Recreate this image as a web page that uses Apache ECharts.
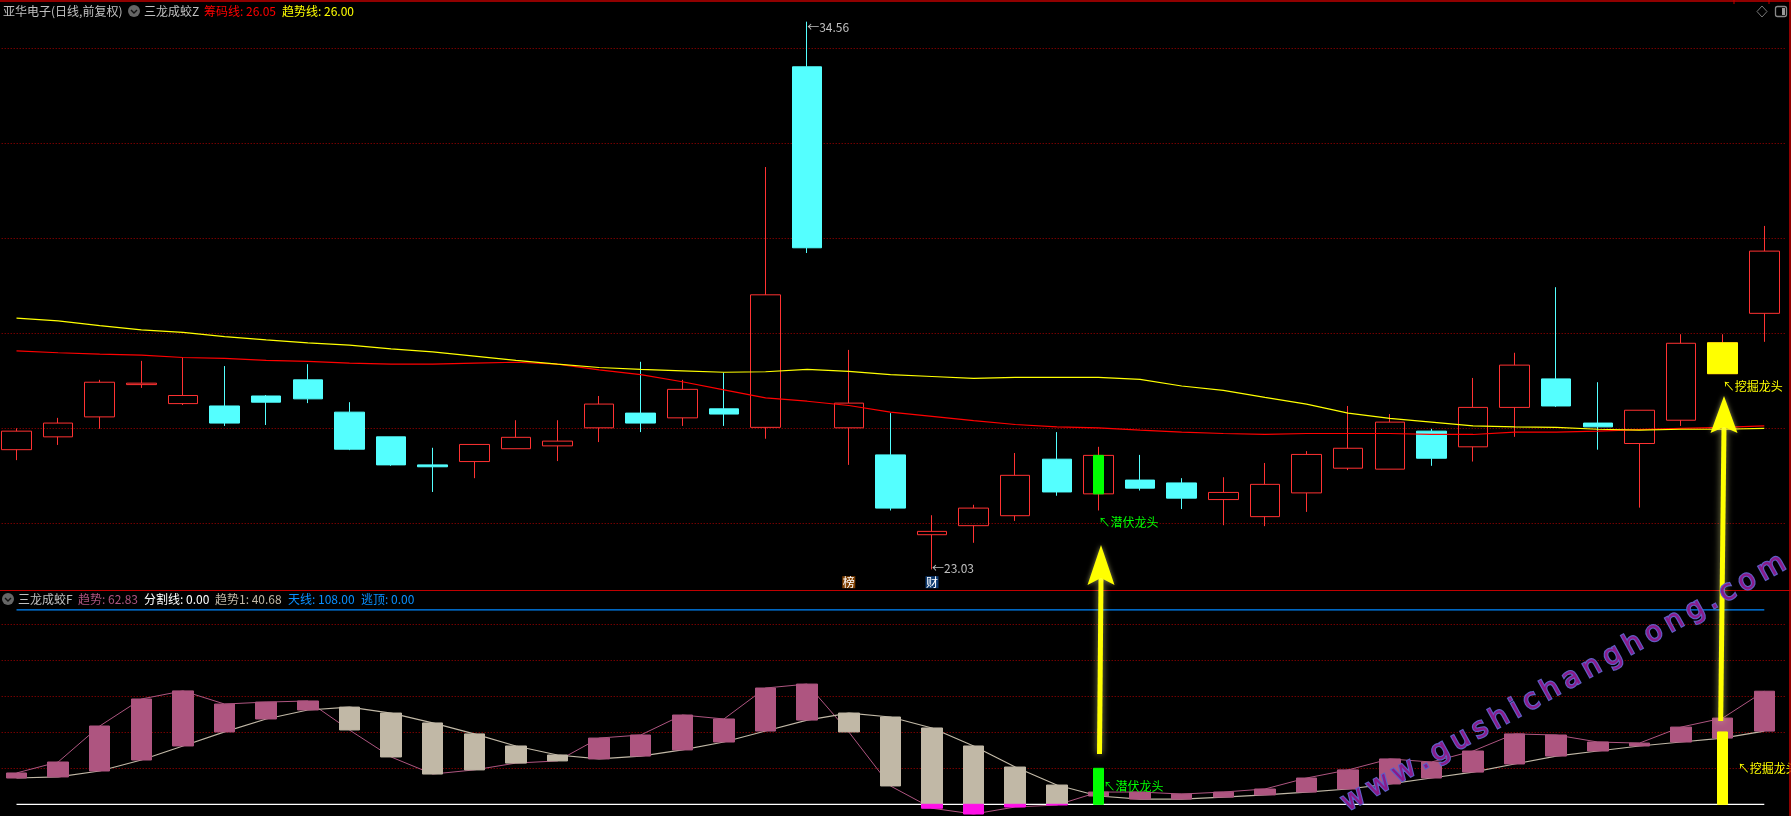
<!DOCTYPE html>
<html><head><meta charset="utf-8">
<style>html,body{margin:0;padding:0;background:#000}#c{width:1791px;height:816px}</style>
<script src="https://cdn.jsdelivr.net/npm/echarts@6/dist/echarts.min.js"></script>
</head><body><div id="c"></div>
<script>
const opens=[25.55,25.82,26.24,26.92,26.52,26.47,26.68,27.02,26.34,25.82,25.23,25.30,25.57,25.63,26.01,26.32,26.22,26.41,26.02,33.61,26.01,25.44,23.76,23.95,24.16,25.35,24.62,24.91,24.85,24.50,24.14,24.64,25.16,25.14,25.94,25.61,26.44,27.04,26.11,25.68,26.17,27.15,28.42];
const closes=[25.94,26.11,26.97,26.95,26.69,26.11,26.55,26.62,25.56,25.23,25.19,25.66,25.81,25.73,26.51,26.11,26.82,26.30,28.81,29.80,26.53,24.32,23.83,24.32,25.01,24.66,25.43,24.74,24.53,24.65,24.82,25.45,25.58,26.13,25.37,26.44,27.33,26.47,26.03,26.38,27.79,27.80,29.73];
const lows=[25.33,25.65,25.99,26.85,26.49,26.05,26.07,26.53,25.54,25.21,24.66,24.95,25.57,25.31,25.71,25.92,26.05,26.05,25.78,29.69,25.23,24.27,23.03,23.59,24.05,24.58,24.27,24.69,24.30,23.96,23.94,24.24,25.12,25.14,25.21,25.30,25.82,26.45,25.55,24.33,26.05,27.15,27.82];
const highs=[26.00,26.22,27.02,27.42,27.49,27.31,26.70,27.35,26.55,25.82,25.59,25.66,26.17,26.17,26.68,27.40,27.02,27.17,31.50,34.56,27.65,26.32,24.17,24.39,25.48,25.92,25.61,25.44,24.95,24.97,25.27,25.52,26.47,26.30,25.99,27.06,27.59,28.97,26.97,26.38,27.98,27.98,30.26];
const chipLine=[27.63,27.59,27.56,27.54,27.49,27.47,27.43,27.41,27.37,27.35,27.35,27.37,27.39,27.35,27.23,27.13,26.98,26.81,26.64,26.57,26.48,26.34,26.25,26.16,26.08,26.03,26.01,25.96,25.92,25.89,25.87,25.89,25.89,25.89,25.87,25.87,25.92,25.92,25.94,25.97,26.00,26.02,26.05];
const trendLine=[28.32,28.26,28.16,28.07,28.02,27.93,27.86,27.80,27.75,27.67,27.61,27.52,27.43,27.35,27.28,27.24,27.21,27.18,27.19,27.24,27.20,27.13,27.09,27.05,27.07,27.07,27.07,27.03,26.89,26.80,26.65,26.51,26.32,26.21,26.13,26.05,26.03,26.02,25.98,25.96,25.98,25.98,26.00];
const trend=[17.4,23.5,43.5,58.5,63,55.7,56.8,57.4,41.3,26.3,16.8,19.1,22.9,24.1,36.8,38.5,49.6,47.4,64.6,66.8,40.2,10.2,-2.2,-5.4,-1.5,-0.4,6.8,6.8,5.7,6.8,8.5,14.6,19.1,25.2,23.5,29.6,39.1,38.5,34.6,34,42.9,47.9,62.83];
const trend1=[14.6,15.2,18.5,24.6,32.4,40.2,47.4,52.4,54,50.7,45.2,39.1,32.4,27.4,25.2,26.8,30.2,34.6,40.7,46.8,50.7,48.5,42.4,32.4,20.7,10.7,4.6,2.9,2.9,4,5.2,6.8,8.5,11.3,14.6,17.9,22.4,26.8,29.6,32.4,34.6,36.8,40.68];
const skyLevel=108, splitLevel=0;
const priceGrid=[34,32,30,28,26,24];
const lowerGrid=[100,80,60,40,20];
const latentIdx=26, latentBar=20;
const digIdx=41, digBar=40.2;
const categories=opens.map((_,i)=>'D'+(i+1));
const FONT='"Noto Sans CJK SC"';
const EMPTY=['-','-','-','-'];
const RED='#ff3232',CYAN='#54ffff',PINK='#ae5580',BEIGE='#c1b8a6',GRID='#a80000',DIV='#c00000';

const kdata=opens.map((o,i)=>[o,closes[i],lows[i],highs[i]]);
const only=(i,row)=>categories.map((_,k)=>k===i?row:EMPTY);
const box=(a,b)=>{const l=Math.min(a,b),h=Math.max(a,b);return [l,h,l,h];};

function gridSeries(levels,ax){return {type:'line',xAxisIndex:ax,yAxisIndex:ax,data:[],silent:true,z:1,
  markLine:{silent:true,z:1,symbol:'none',animation:false,label:{show:false},
    lineStyle:{color:GRID,type:[1,2],width:1},data:levels.map(v=>({yAxis:v}))}};}
function tag(idx,val,text,color,offset,pos){return {coord:[idx,val],symbol:'circle',symbolSize:0,
  label:{show:true,formatter:text,color:color,fontFamily:FONT,fontSize:12,position:pos||'right',distance:0,offset:offset}};}
function badge(idx,val,text,bg){return {coord:[idx,val],symbol:'circle',symbolSize:0,
  label:{show:true,formatter:text,color:'#fff',fontFamily:FONT,fontSize:12,lineHeight:12,backgroundColor:bg,position:'inside',padding:[0,0.5]}};}
function cs(ax,data,width,up,down,z,extra){return Object.assign({type:'candlestick',xAxisIndex:ax,yAxisIndex:ax,data:data,barWidth:width,z:z,
  itemStyle:{color:up,color0:down,borderColor:up==='transparent'?RED:up,borderColor0:down,borderWidth:1}},extra||{});}

const series=[
  gridSeries(priceGrid,0),
  gridSeries(lowerGrid,1),
  cs(0,kdata,30,'transparent',CYAN,3),
  cs(0,only(digIdx,box(opens[digIdx],closes[digIdx])),31,'#ffff00','#ffff00',4),
  cs(0,only(latentIdx,box(opens[latentIdx],closes[latentIdx])),11,'#00ff00','#00ff00',4),
  {type:'line',name:'筹码线',data:chipLine,symbol:'none',z:5,lineStyle:{color:'#ff0000',width:1.2},
    markPoint:{silent:true,animation:false,z:9,data:[
      tag(19,34.56,'←34.56','#c0c0c0',[0,6]),
      tag(22,23.03,'←23.03','#c0c0c0',[0,-1]),
      tag(latentIdx,lows[latentIdx],'↖潜伏龙头','#00ff00',[0,12]),
      tag(digIdx,lows[digIdx],'↖挖掘龙头','#ffff00',[0,13]),
      badge(20,22.76,'榜','#7f3f00'),
      badge(22,22.76,'财','#0d3a70')
    ]}},
  {type:'line',name:'趋势线',data:trendLine,symbol:'none',z:6,lineStyle:{color:'#ffff00',width:1.2}},
  {type:'line',name:'天线',xAxisIndex:1,yAxisIndex:1,data:categories.map(()=>skyLevel),symbol:'none',z:3,lineStyle:{color:'#0088ff',width:1.2}},
  {type:'line',name:'分割线',xAxisIndex:1,yAxisIndex:1,data:categories.map(()=>splitLevel),symbol:'none',z:3,lineStyle:{color:'#ffffff',width:1.2}},
  {type:'line',name:'趋势',xAxisIndex:1,yAxisIndex:1,data:trend,symbol:'none',z:4,lineStyle:{color:PINK,width:1},
    markPoint:{silent:true,animation:false,z:9,data:[
      tag(latentIdx,0,'↖潜伏龙头','#00ff00',[5,-18]),
      tag(digIdx,0,'↖挖掘龙头','#ffff00',[15,-36])
    ]}},
  {type:'line',name:'趋势1',xAxisIndex:1,yAxisIndex:1,data:trend1,symbol:'none',z:4,lineStyle:{color:BEIGE,width:1.2}},
  cs(1,categories.map((_,i)=>trend[i]>=trend1[i]?[trend1[i],trend[i],trend1[i],trend[i]]:EMPTY),21,PINK,PINK,5),
  cs(1,categories.map((_,i)=>trend[i]<trend1[i]?box(Math.max(trend[i],0),trend1[i]):EMPTY),21,BEIGE,BEIGE,5),
  cs(1,categories.map((_,i)=>trend[i]<0?[trend[i],0,trend[i],0]:EMPTY),21,'#ff10e8','#ff10e8',6),
  cs(1,only(latentIdx,[0,latentBar,0,latentBar]),11,'#00ff00','#00ff00',7),
  cs(1,only(digIdx,[0,digBar,0,digBar]),11,'#ffff00','#ffff00',7)
];

function t(x,y,text,fill){return {type:'text',x:x,y:y,z:50,silent:true,style:{text:text,fill:fill,font:'12px '+FONT,textVerticalAlign:'middle',verticalAlign:'middle'}};}
function chevron(cx,cy){return [
  {type:'circle',z:50,silent:true,shape:{cx:cx,cy:cy,r:6},style:{fill:'#666'}},
  {type:'polyline',z:51,silent:true,shape:{points:[[cx-3,cy-1],[cx,cy+2],[cx+3,cy-1]]},style:{stroke:'#111',lineWidth:1.4,fill:null}}];}
function hline(x1,y1,x2,y2,color,w){return {type:'line',z:49,silent:true,shape:{x1,y1,x2,y2},style:{stroke:color,lineWidth:w||1}};}
function arrow(tip,halfW,baseY,notchY,tail){
  const cx=tip[0];
  return [
   {type:'polygon',z:60,silent:true,shape:{points:[[cx-2.5,notchY],[cx+2.5,notchY],[tail[0]+2.5,tail[1]],[tail[0]-2.5,tail[1]]]},
     style:{fill:'#ffff00',shadowColor:'rgba(255,255,160,0.55)',shadowBlur:7}},
   {type:'polygon',z:60,silent:true,shape:{points:[tip,[cx+halfW,baseY],[cx,notchY],[cx-halfW,baseY]]},
     style:{fill:'#ffff00',shadowColor:'rgba(255,255,160,0.55)',shadowBlur:5}}];
}
// watermark: letter by letter with wide tracking along a 29 degree baseline
const WM_TEXT='www.gushichanghong.com', WM_FONT='28px "DejaVu Sans"';
function watermark(){
  const ctx=document.createElement('canvas').getContext('2d');ctx.font=WM_FONT;
  const w=[...WM_TEXT].map(c=>ctx.measureText(c).width);
  const rawSpan=w.reduce((a,b)=>a+b,0)-w[0]/2-w[w.length-1]/2;
  const track=(478-rawSpan)/(w.length-1);
  const ang=29*Math.PI/180;let d=0;const out=[];
  [...WM_TEXT].forEach((c,i)=>{
    if(i>0)d+=w[i-1]/2+w[i]/2+track;
    out.push({type:'text',z:70,silent:true,x:1355+d*Math.cos(ang)-1.2,y:802-d*Math.sin(ang)-2.2,rotation:ang,originX:0,originY:0,
      style:{text:c,font:WM_FONT,fill:'#8a1a8a',stroke:'#6060c8',lineWidth:2.2,strokeFirst:true,align:'center',verticalAlign:'middle',textAlign:'center',textVerticalAlign:'middle'}});
  });
  return out;
}
const graphic=[
  hline(0,1,1791,1,DIV,1.5),hline(1734,0,1734,4,DIV,1),hline(1769,0,1769,4,DIV,1),
  hline(0,590.5,1791,590.5,DIV,1.2),hline(1790,0,1790,816,DIV,1.5),
  t(3,11,'亚华电子(日线,前复权)','#c0c0c0'),...chevron(134,11),
  t(144,11,'三龙成蛟Z','#c0c0c0'),t(204,11,'筹码线: 26.05','#ff0000'),t(282,11,'趋势线: 26.00','#ffff00'),
  ...chevron(8,599),
  t(18,599,'三龙成蛟F','#c0c0c0'),t(78,599,'趋势: 62.83',PINK),t(144,599,'分割线: 0.00','#ffffff'),
  t(215,599,'趋势1: 40.68',BEIGE),t(288,599,'天线: 108.00','#0a90ff'),t(361,599,'逃顶: 0.00','#0a90ff'),
  {type:'polygon',z:50,silent:true,shape:{points:[[1762,6],[1767,11.5],[1762,17],[1757,11.5]]},style:{fill:null,stroke:'#777',lineWidth:1}},
  {type:'rect',z:50,silent:true,shape:{x:1775.5,y:6.5,width:11,height:10,r:2},style:{fill:null,stroke:'#888',lineWidth:1.3}},
  {type:'rect',z:50,silent:true,shape:{x:1782,y:8,width:3,height:7},style:{fill:'#999'}},
  ...arrow([1101,545],13.5,585,578,[1099.5,754]),
  ...arrow([1724,396],13.5,433,427,[1720.7,721]),
  ...watermark()
];

const option={
  animation:false,backgroundColor:'#000',
  grid:[{left:-4.3,top:4,width:1789.4,height:586,outerBoundsMode:'none'},{left:-4.3,top:590,width:1789.4,height:226,outerBoundsMode:'none'}],
  xAxis:[{type:'category',gridIndex:0,data:categories,show:false},{type:'category',gridIndex:1,data:categories,show:false}],
  yAxis:[{type:'value',gridIndex:0,min:22.596,max:34.932,show:false,splitLine:{show:false}},
         {type:'value',gridIndex:1,min:-6.5,max:119.06,show:false,splitLine:{show:false}}],
  series:series,graphic:graphic
};
const chart=echarts.init(document.getElementById('c'),null,{width:1791,height:816});
chart.setOption(option);
</script></body></html>
